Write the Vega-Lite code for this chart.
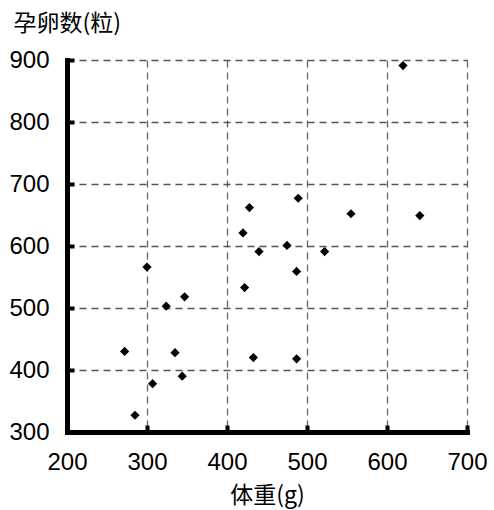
{
  "$schema": "https://vega.github.io/schema/vega-lite/v6.json",
  "width": 400,
  "height": 372,
  "autosize": {"type": "none"},
  "padding": {"left": 67, "top": 60, "right": 27, "bottom": 78},
  "background": "white",
  "config": {
    "view": {"stroke": null},
    "font": "Liberation Sans, Noto Sans CJK SC"
  },
  "data": {
    "values": [
      {"w": 620, "n": 891},
      {"w": 489, "n": 677},
      {"w": 428, "n": 662},
      {"w": 555, "n": 652},
      {"w": 641, "n": 649},
      {"w": 420, "n": 621},
      {"w": 440, "n": 591},
      {"w": 475, "n": 601},
      {"w": 522, "n": 591},
      {"w": 487, "n": 559},
      {"w": 422, "n": 533},
      {"w": 433, "n": 420},
      {"w": 487, "n": 418},
      {"w": 300, "n": 566},
      {"w": 347, "n": 518},
      {"w": 324, "n": 503},
      {"w": 272, "n": 430},
      {"w": 335, "n": 428},
      {"w": 344, "n": 390},
      {"w": 307, "n": 378},
      {"w": 285, "n": 327}
    ]
  },
  "mark": {"type": "point", "shape": "diamond", "filled": true, "color": "black", "size": 85, "opacity": 1},
  "encoding": {
    "x": {
      "field": "w", "type": "quantitative",
      "scale": {"domain": [200, 700], "nice": false, "zero": false},
      "axis": {
        "title": "体重(g)", "titleFont": "Noto Sans CJK SC", "titleFontSize": 23, "titleFontWeight": "normal",
        "titleColor": "black", "titleBaseline": "middle", "titleY": 63, "titleX": 200,
        "values": [200, 300, 400, 500, 600, 700],
        "labelFontSize": 24, "labelColor": "black", "labelPadding": 25, "labelFlush": false,
        "domainColor": "black", "domainWidth": 5, "domainCap": "square",
        "tickColor": "black", "tickWidth": 4, "tickSize": -7,
        "grid": true, "gridColor": "#666", "gridDash": [7, 5], "gridWidth": 1.3, "gridOpacity": 1
      }
    },
    "y": {
      "field": "n", "type": "quantitative",
      "scale": {"domain": [300, 900], "nice": false, "zero": false},
      "axis": {
        "title": "孕卵数(粒)", "titleFont": "Noto Sans CJK SC", "titleFontSize": 23, "titleFontWeight": "normal",
        "titleColor": "black", "titleAngle": 0, "titleAlign": "left", "titleBaseline": "middle",
        "titleX": -54, "titleY": -37,
        "values": [300, 400, 500, 600, 700, 800, 900],
        "labelFontSize": 24, "labelColor": "black", "labelPadding": 25, "labelFlush": false,
        "domainColor": "black", "domainWidth": 5, "domainCap": "square",
        "tickColor": "black", "tickWidth": 4, "tickSize": -7,
        "grid": true, "gridColor": "#555", "gridDash": [7, 5], "gridWidth": 1.3, "gridOpacity": 1
      }
    }
  }
}
